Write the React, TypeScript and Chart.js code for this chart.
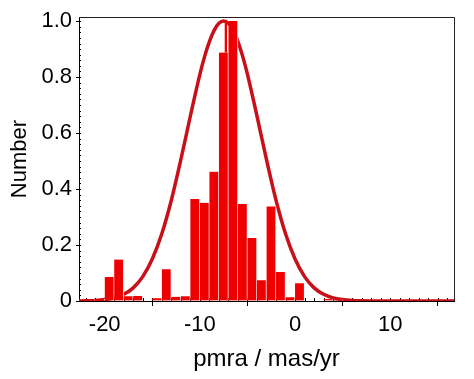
import React, { useEffect, useRef } from "react";
import { Chart, registerables } from "chart.js";

Chart.register(...registerables);

// Histogram bins (bin centres, width 1 mas/yr) and normalised counts
const binCenters = [
  -22.5, -21.5, -20.5, -19.5, -18.5, -17.5, -16.5, -14.5, -13.5, -12.5, -11.5,
  -10.5, -9.5, -8.5, -7.5, -6.5, -5.5, -4.5, -3.5, -2.5, -1.5, -0.5, 0.5, 3.5, 4.5, 5.5,
];
const binCounts = [
  0.003, 0.005, 0.007, 0.086, 0.148, 0.017, 0.018, 0.010, 0.113, 0.015, 0.017,
  0.364, 0.351, 0.462, 0.888, 1.0, 0.347, 0.225, 0.074, 0.338, 0.104, 0.013, 0.063, 0.008, 0.005, 0.003,
];

// Narrow full-height sliver at the right side of the -8..-7 bin
const sliverX = [-7.27, -7.27];
const sliverY = [0.888, 1.0];

// Fitted curve
const curveX = [
  -23, -22, -21, -20, -19, -18, -17, -16, -15, -14, -13, -12, -11, -10, -9.5, -9,
  -8.5, -8, -7.5, -7, -6.5, -6, -5.5, -5, -4, -3, -2, -1, 0, 1, 2, 3, 4, 5, 6, 7,
  8, 10, 12, 14, 17,
];
const curveY = [
  0.0003, 0.0008, 0.002, 0.005, 0.011, 0.024, 0.047, 0.087, 0.150, 0.240, 0.360,
  0.505, 0.661, 0.810, 0.874, 0.927, 0.967, 0.992, 1.0, 0.992, 0.967, 0.927, 0.874,
  0.810, 0.661, 0.505, 0.360, 0.240, 0.150, 0.087, 0.047, 0.024, 0.011, 0.005,
  0.002, 0.0008, 0.0003, 0, 0, 0, 0,
];

const xTickValues = [-20, -10, 0, 10];
const yTickValues = [0, 0.2, 0.4, 0.6, 0.8, 1.0];

const X_MIN = -22.7;
const X_MAX = 16.7;
const Y_MAX = 1.014;
const X_MINOR_STEP = 1;
const Y_MINOR_STEP = 0.02;

const FONT = "'Liberation Sans', Arial, Helvetica, sans-serif";
const BAR_RED = "#ee0000";
const CURVE_RED = "#c8101a";

const decorPlugin = {
  id: "decor",
  beforeDatasetsDraw(chart: any) {
    const { ctx, chartArea: a, scales } = chart;
    const x = scales.x;
    const y = scales.y;
    ctx.save();
    ctx.strokeStyle = "#000";
    ctx.lineWidth = 1;
    ctx.beginPath();
    for (let v = Math.ceil(X_MIN); v <= X_MAX; v += X_MINOR_STEP) {
      const px = Math.round(x.getPixelForValue(v)) + 0.5;
      ctx.moveTo(px, a.bottom);
      ctx.lineTo(px, a.bottom - 3);
    }
    const n = Math.floor(1.0 / Y_MINOR_STEP + 0.5);
    for (let i = 0; i <= n; i++) {
      const py = Math.round(y.getPixelForValue(i * Y_MINOR_STEP)) + 0.5;
      ctx.moveTo(a.left, py);
      ctx.lineTo(a.left + 2, py);
    }
    ctx.stroke();
    ctx.restore();
  },
  afterDraw(chart: any) {
    const { ctx, chartArea: a } = chart;
    ctx.save();
    ctx.strokeStyle = "#222";
    ctx.lineWidth = 1;
    ctx.beginPath();
    ctx.moveTo(a.left, Math.round(a.top) + 0.5);
    ctx.lineTo(Math.round(a.right) + 0.5, Math.round(a.top) + 0.5);
    ctx.lineTo(Math.round(a.right) + 0.5, a.bottom);
    ctx.stroke();
    ctx.restore();
  },
};

export default function App() {
  const ref = useRef<HTMLCanvasElement | null>(null);

  useEffect(() => {
    if (!ref.current) return;
    const chart = new Chart(ref.current, {
      type: "bar",
      data: {
        datasets: [
          {
            type: "line",
            label: "sliver",
            data: sliverX.map((c, i) => ({ x: c, y: sliverY[i] })),
            borderColor: BAR_RED,
            borderWidth: 2.3,
            borderCapStyle: "butt",
            pointRadius: 0,
            fill: false,
            order: 0,
          } as any,
          {
            type: "bar",
            label: "histogram",
            data: binCenters.map((c, i) => ({ x: c, y: binCounts[i] })),
            backgroundColor: BAR_RED,
            borderColor: "#fff2f2",
            borderWidth: { top: 0, right: 1, bottom: 0, left: 0 },
            borderSkipped: false,
            categoryPercentage: 1,
            barPercentage: 1,
            order: 1,
          } as any,
          {
            type: "line",
            label: "fit",
            data: curveX.map((c, i) => ({ x: c, y: curveY[i] })),
            borderColor: CURVE_RED,
            borderWidth: 3.5,
            pointRadius: 0,
            fill: false,
            cubicInterpolationMode: "monotone",
            order: 2,
          } as any,
        ],
      },
      options: {
        animation: false,
        responsive: false,
        maintainAspectRatio: false,
        layout: { padding: { top: 15, right: 20, left: 0, bottom: 0 } },
        plugins: {
          legend: { display: false },
          tooltip: { enabled: false },
        },
        scales: {
          x: {
            type: "linear",
            min: X_MIN,
            max: X_MAX,
            offset: false,
            afterBuildTicks: (s: any) => {
              s.ticks = xTickValues.map((v) => ({ value: v }));
            },
            afterFit: (s: any) => {
              s.height = 78;
            },
            ticks: {
              autoSkip: false,
              maxRotation: 0,
              padding: 6,
              color: "#000",
              font: { family: FONT, size: 22 },
              callback: (v: any) => String(v),
            },
            grid: {
              drawOnChartArea: false,
              tickLength: 5,
              color: "#000",
              tickColor: "#000",
            },
            border: { color: "#000", width: 1 },
            title: {
              display: true,
              text: "pmra / mas/yr",
              color: "#000",
              font: { family: FONT, size: 24 },
              padding: { top: 0, bottom: 5 },
            },
          },
          y: {
            type: "linear",
            min: 0,
            max: Y_MAX,
            afterBuildTicks: (s: any) => {
              s.ticks = yTickValues.map((v) => ({ value: v }));
            },
            afterFit: (s: any) => {
              s.width = 79;
            },
            ticks: {
              padding: 4,
              color: "#000",
              font: { family: FONT, size: 22 },
              callback: (v: any) => (v === 0 ? "0" : Number(v).toFixed(1)),
            },
            grid: {
              drawOnChartArea: false,
              tickLength: 3,
              color: "#000",
              tickColor: "#000",
            },
            border: { color: "#000", width: 1 },
            title: {
              display: true,
              text: "Number",
              color: "#000",
              font: { family: FONT, size: 22 },
              padding: { top: 7, bottom: 0 },
            },
          },
        },
      },
      plugins: [decorPlugin],
    });
    return () => chart.destroy();
  }, []);

  return (
    <div style={{ position: "absolute", left: 0, top: 0, width: 474, height: 379, background: "#fff" }}>
      <canvas ref={ref} width={474} height={379} style={{ display: "block" }} />
    </div>
  );
}
